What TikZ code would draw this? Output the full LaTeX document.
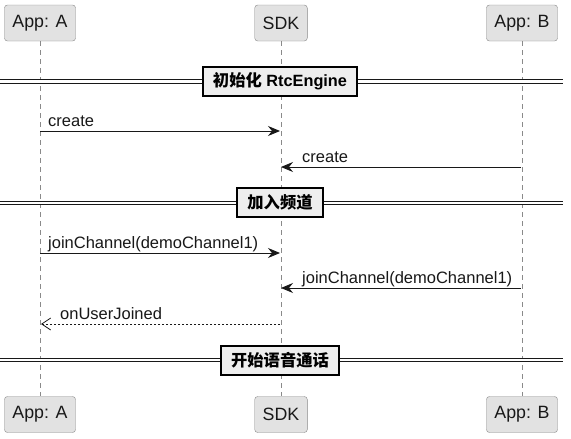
\documentclass[tikz,border=0pt]{standalone}
\usepackage{fontspec}
\setmainfont{Liberation Sans}
\newfontfamily\cjk{Noto Sans CJK SC}
\usetikzlibrary{arrows.meta}

\definecolor{partfill}{HTML}{E2E2E2}
\definecolor{partline}{HTML}{8A8A8A}
\definecolor{divfill}{HTML}{EEEEEE}
\definecolor{inkdark}{HTML}{181818}

\tikzset{
    participant/.style={draw=partline, fill=partfill, rounded corners=3pt,
        minimum height=36pt, inner xsep=8pt, text=inkdark,
        font=\fontsize{17.8}{20}\selectfont},
    lifeline/.style={draw=partline, line width=0.8pt, dash pattern=on 5pt off 4pt},
    divider/.style={draw=black, line width=2pt, fill=divfill, minimum height=29pt,
        inner xsep=10pt, font=\fontsize{16.3}{19}\selectfont\bfseries},
    divline/.style={draw=inkdark, double=white, double distance=2.2pt, line width=1pt},
    msg/.style={draw=inkdark, line width=0.9pt, -{Stealth[length=12pt, width=10pt, inset=4pt]}},
    reply/.style={draw=inkdark, line width=0.8pt, dash pattern=on 2pt off 2pt,
        -{Straight Barb[length=9pt, width=12pt, line width=0.8pt]}},
    msglabel/.style={anchor=base west, inner sep=0pt, text=inkdark,
        font=\fontsize{16.5}{19}\selectfont},
}

\begin{document}
\begin{tikzpicture}[x=1pt, y=-1pt]
    \useasboundingbox[fill=white] (0, 0) rectangle (571, 439);

    % participants, top and bottom
    \node[participant] (aTop)   at (40, 23)    {App: A};
    \node[participant] (sdkTop) at (281, 23)   {SDK};
    \node[participant] (bTop)   at (522, 23)   {App: B};
    \node[participant] (aBot)   at (40, 414.5) {App: A};
    \node[participant] (sdkBot) at (281, 414.5) {SDK};
    \node[participant] (bBot)   at (522, 414.5) {App: B};

    \draw[lifeline] (aTop) -- (aBot);
    \draw[lifeline] (sdkTop) -- (sdkBot);
    \draw[lifeline] (bTop) -- (bBot);

    % dividers
    \draw[divline] (0, 81.5) -- (563, 81.5);
    \node[divider] (initBox) at (280, 81) {{\cjk 初始化} RtcEngine};
    \draw[divline] (0, 203) -- (563, 203);
    \node[divider] (joinBox) at (280, 202.5) {\cjk 加入频道};
    \draw[divline] (0, 360) -- (563, 360);
    \node[divider] (talkBox) at (280, 360) {\cjk 开始语音通话};

    % message ends on the lifelines
    \coordinate (a1) at (40, 131);    \coordinate (s1) at (280, 131);
    \coordinate (b2) at (521, 167);   \coordinate (s2) at (281, 167);
    \coordinate (a3) at (40, 253);    \coordinate (s3) at (280, 253);
    \coordinate (b4) at (521, 288);   \coordinate (s4) at (281, 288);
    \coordinate (s5) at (280, 324);   \coordinate (a5) at (41, 324);

    \draw[msg] (a1) -- (s1);
    \node[msglabel] (createA) at (48, 126) {create};
    \draw[msg] (b2) -- (s2);
    \node[msglabel] (createB) at (302, 162) {create};
    \draw[msg] (a3) -- (s3);
    \node[msglabel] (joinA) at (48, 248) {joinChannel(demoChannel1)};
    \draw[msg] (b4) -- (s4);
    \node[msglabel] (joinB) at (302, 283) {joinChannel(demoChannel1)};
    \draw[reply] (s5) -- (a5);
    \node[msglabel] (joined) at (60, 319) {onUserJoined};
\end{tikzpicture}
\end{document}
